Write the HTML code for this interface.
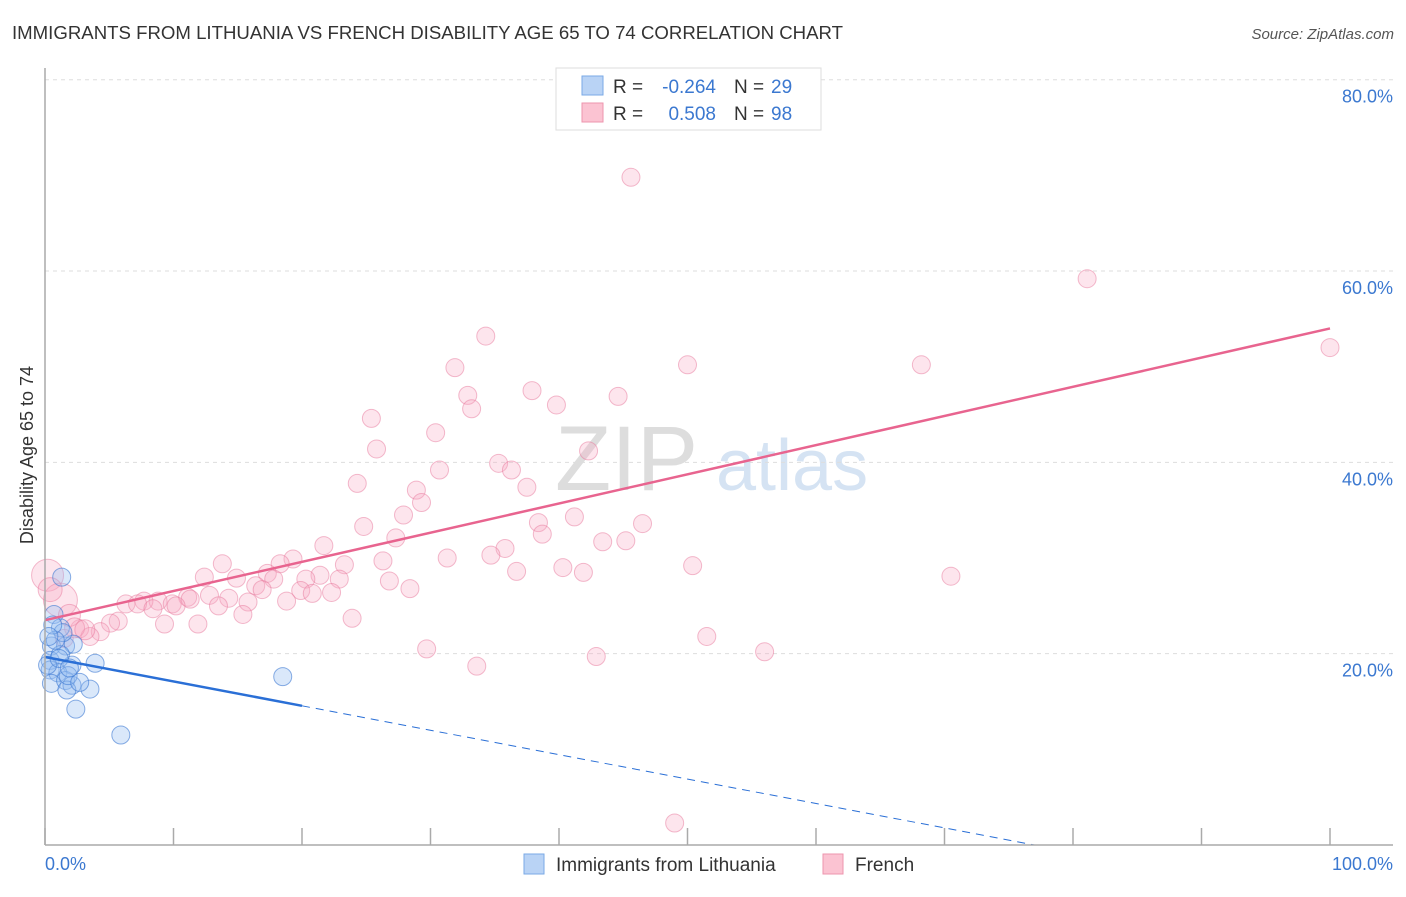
<!DOCTYPE html>
<html><head><meta charset="utf-8"><style>
body{margin:0;background:#fff;font-family:"Liberation Sans",sans-serif}
svg text{font-family:"Liberation Sans",sans-serif}
</style></head><body>
<svg width="1406" height="892" viewBox="0 0 1406 892" xmlns="http://www.w3.org/2000/svg" id="svg">
<text x="12" y="39" font-size="18" fill="#333" textLength="831" lengthAdjust="spacingAndGlyphs">IMMIGRANTS FROM LITHUANIA VS FRENCH DISABILITY AGE 65 TO 74 CORRELATION CHART</text>
<text x="1394" y="39" font-size="15" fill="#555" text-anchor="end" font-style="italic">Source: ZipAtlas.com</text>
<text x="555" y="490" font-size="92" fill="#ddd" font-family="Liberation Serif">ZIP</text>
<text x="716" y="490" font-size="72" fill="#d5e3f3">atlas</text>
<g id="grid"></g><g id="pts"></g><g id="lines"></g>
<line x1="45" y1="68" x2="45" y2="845" stroke="#aaa" stroke-width="1.5"/>
<line x1="45" y1="845" x2="1393" y2="845" stroke="#aaa" stroke-width="1.5"/>
<text transform="translate(33,455) rotate(-90)" font-size="18" fill="#333" text-anchor="middle">Disability Age 65 to 74</text>
<text x="45" y="870" font-size="18" fill="#3b78d0">0.0%</text>
<text x="1393" y="870" font-size="18" fill="#3b78d0" text-anchor="end">100.0%</text>
<g>
<rect x="556" y="68" width="265" height="62" fill="#fff" stroke="#ddd"/>
<rect x="582" y="76" width="21" height="19" fill="#b9d3f5" stroke="#7aa9e6"/>
<rect x="582" y="103" width="21" height="19" fill="#fbc3d2" stroke="#ee94ae"/>
<text x="613" y="93" font-size="19" fill="#333">R =</text>
<text x="716" y="93" font-size="19" fill="#3b78d0" text-anchor="end">-0.264</text>
<text x="734" y="93" font-size="19" fill="#333">N =</text>
<text x="771" y="93" font-size="19" fill="#3b78d0">29</text>
<text x="613" y="120" font-size="19" fill="#333">R =</text>
<text x="716" y="120" font-size="19" fill="#3b78d0" text-anchor="end">0.508</text>
<text x="734" y="120" font-size="19" fill="#333">N =</text>
<text x="771" y="120" font-size="19" fill="#3b78d0">98</text>
</g>
<g>
<rect x="524" y="854" width="20" height="20" fill="#b9d3f5" stroke="#7aa9e6"/>
<text x="556" y="871" font-size="19" fill="#333">Immigrants from Lithuania</text>
<rect x="823" y="854" width="20" height="20" fill="#fbc3d2" stroke="#ee94ae"/>
<text x="855" y="871" font-size="19" fill="#333">French</text>
</g>
</svg>
<script>
const yTicks=[20,40,60,80];
const yTickLabels=["20.0%","40.0%","60.0%","80.0%"];
const xTicks=[0,10,20,30,40,50,60,70,80,90,100];
const frenchX=[45.6,81.1,100,34.3,50.0,68.2,31.9,37.9,32.9,44.6,33.2,39.8,25.4,30.4,25.8,42.3,35.3,36.3,30.7,24.3,37.5,28.9,29.3,27.9,41.2,38.4,46.5,24.8,38.7,27.3,45.2,43.4,21.7,35.8,34.7,31.3,19.3,26.3,13.8,18.3,23.3,40.3,50.4,36.7,41.9,70.5,21.4,17.3,14.9,20.3,12.4,22.9,26.8,17.8,16.4,16.9,28.4,19.9,22.3,20.8,12.8,14.3,11.1,8.8,7.7,6.3,15.8,18.8,9.9,7.2,11.3,8.4,13.5,10.2,15.4,23.9,5.7,5.1,9.3,11.9,2.7,4.3,3.5,51.5,1.5,29.7,56.0,42.9,33.6,49.0,0.2,1.2,0.4,1.9,2.3,3.1];
const frenchY=[69.8,59.2,52.0,53.2,50.2,50.2,49.9,47.5,47.0,46.9,45.6,46.0,44.6,43.1,41.4,41.2,39.9,39.2,39.2,37.8,37.4,37.1,35.8,34.5,34.3,33.7,33.6,33.3,32.5,32.1,31.8,31.7,31.3,31.0,30.3,30.0,29.9,29.7,29.4,29.4,29.3,29.0,29.2,28.6,28.5,28.1,28.2,28.4,27.9,27.8,28.0,27.8,27.6,27.8,27.1,26.7,26.8,26.6,26.4,26.3,26.1,25.8,25.9,25.5,25.5,25.2,25.4,25.5,25.2,25.2,25.7,24.7,25.0,25.0,24.1,23.7,23.4,23.2,23.1,23.1,22.6,22.3,21.8,21.8,21.6,20.5,20.2,19.7,18.7,2.3,28.2,25.6,26.7,24.0,22.7,22.5];
const frenchR=[9,9,9,9,9,9,9,9,9,9,9,9,9,9,9,9,9,9,9,9,9,9,9,9,9,9,9,9,9,9,9,9,9,9,9,9,9,9,9,9,9,9,9,9,9,9,9,9,9,9,9,9,9,9,9,9,9,9,9,9,9,9,9,9,9,9,9,9,9,9,9,9,9,9,9,9,9,9,9,9,9,9,9,9,9,9,9,9,9,9,16,17,12,11,10,10];
const lithX=[1.3,0.7,1.2,0.5,1.6,2.2,0.4,3.9,2.1,0.4,1.0,0.5,1.6,2.1,1.7,3.5,2.4,5.9,18.5,1.2,1.4,0.8,0.2,1.8,2.7,0.6,1.1,1.9,0.3];
const lithY=[28.0,24.1,22.7,20.8,20.8,21.0,19.3,19.0,18.8,18.3,18.0,16.9,17.2,16.7,16.2,16.3,14.2,11.5,17.6,19.9,22.2,21.4,18.8,17.7,17.0,23.0,19.5,18.5,21.8];
const pinkTrend=[0,23.5,100,54.0];
const blueTrend=[0,19.65,20,14.55,77,0];
const X=v=>45+v*12.85, Y=v=>845-v*9.566;
const NS="http://www.w3.org/2000/svg";
function mk(t,a,p){const e=document.createElementNS(NS,t);for(const k in a)e.setAttribute(k,a[k]);p.appendChild(e);return e;}
const grid=document.getElementById('grid'),pts=document.getElementById('pts'),lines=document.getElementById('lines'),svg=document.getElementById('svg');
yTicks.forEach((t,i)=>{
 const g=mk('line',{x1:45,x2:1393,y1:Y(t),y2:Y(t),stroke:'#ddd','stroke-dasharray':'4,4'},grid);
 
 
 const l=mk('text',{x:1393,y:Y(t)+23,'font-size':18,fill:'#3b78d0','text-anchor':'end'},svg);
 l.textContent=yTickLabels[i];
 
 
});
xTicks.forEach(t=>{
 const k=mk('line',{x1:X(t),x2:X(t),y1:828,y2:845,stroke:'#aaa','stroke-width':1.5},grid);
 
 
});
frenchX.forEach((x,i)=>{
 const c=mk('circle',{cx:X(x),cy:Y(frenchY[i]),r:frenchR[i],fill:'rgba(248,170,195,0.3)',stroke:'rgba(232,120,155,0.5)','stroke-width':1},pts);
 
 
});
lithX.forEach((x,i)=>{
 const c=mk('circle',{cx:X(x),cy:Y(lithY[i]),r:9,fill:'rgba(150,190,240,0.35)',stroke:'rgba(60,120,210,0.6)','stroke-width':1},pts);
 
 
});
let e=mk('line',{x1:X(pinkTrend[0]),y1:Y(pinkTrend[1]),x2:X(pinkTrend[2]),y2:Y(pinkTrend[3]),stroke:'#e8648f','stroke-width':2.5},lines);


e=mk('line',{x1:X(blueTrend[0]),y1:Y(blueTrend[1]),x2:X(blueTrend[2]),y2:Y(blueTrend[3]),stroke:'#2a6fd6','stroke-width':2.5},lines);


e=mk('line',{x1:X(blueTrend[2]),y1:Y(blueTrend[3]),x2:X(blueTrend[4]),y2:Y(blueTrend[5]),stroke:'#2a6fd6','stroke-width':1,'stroke-dasharray':'8,6'},lines);


</script>
</body></html>
